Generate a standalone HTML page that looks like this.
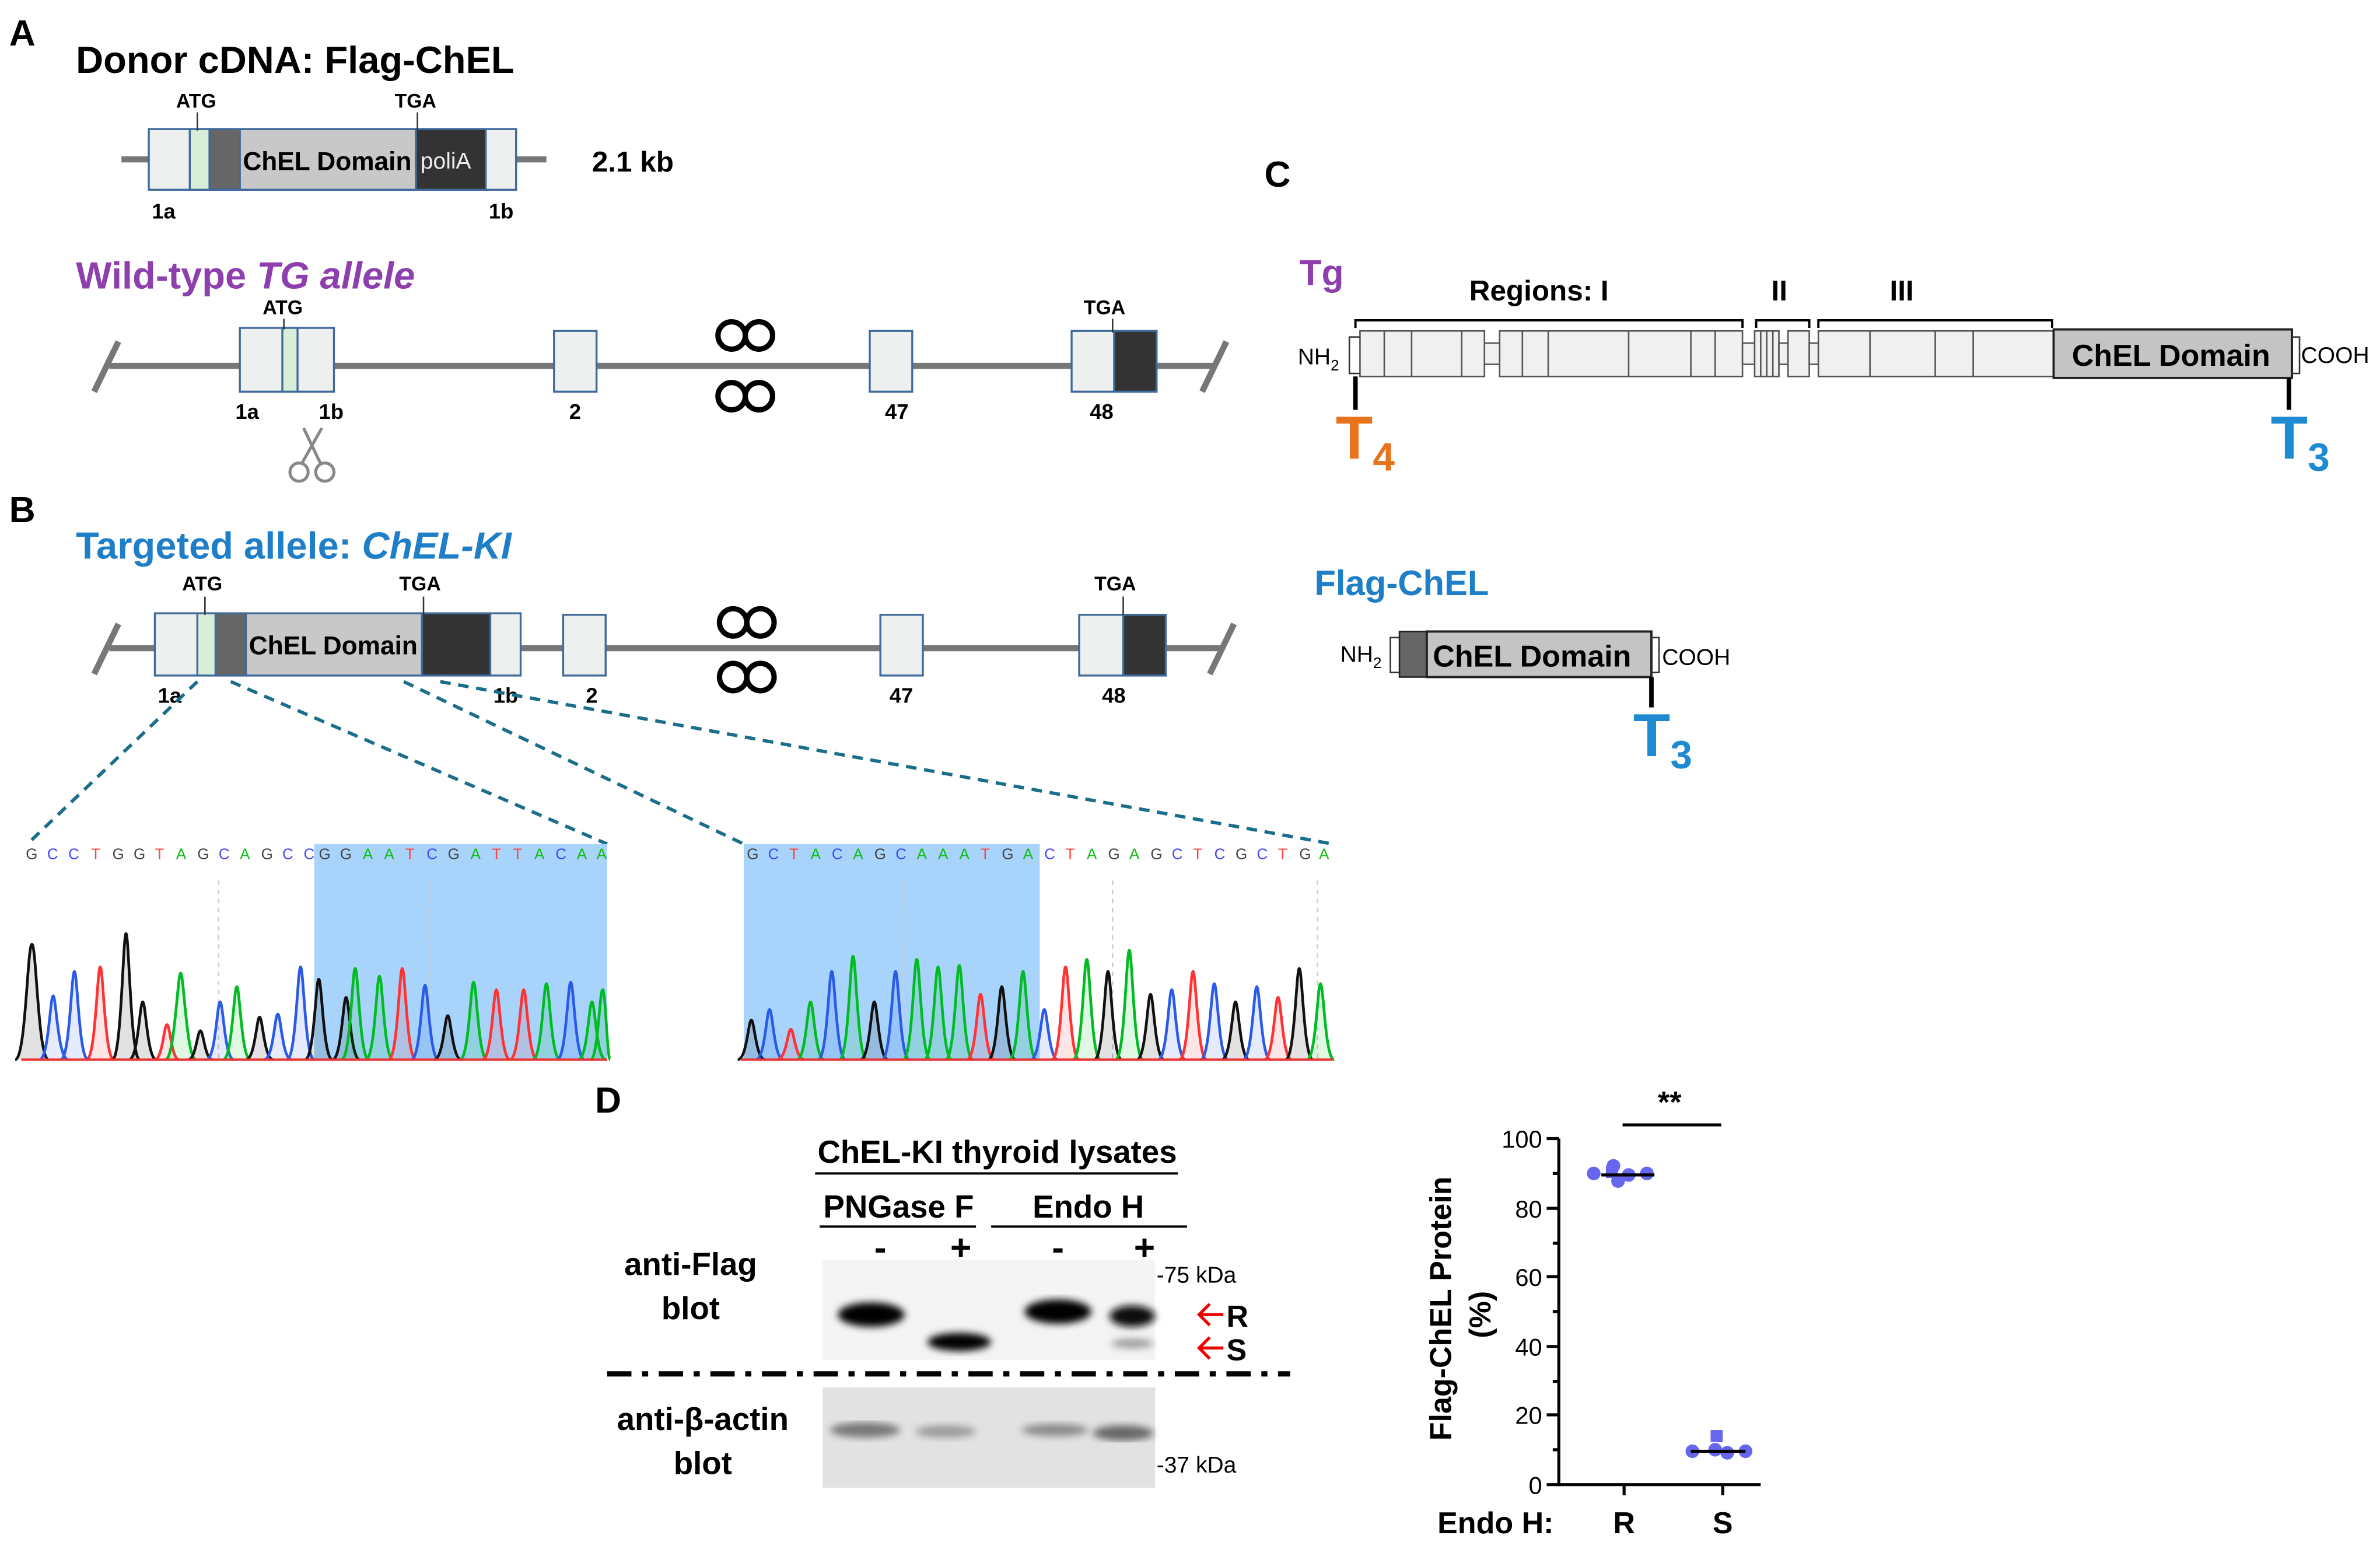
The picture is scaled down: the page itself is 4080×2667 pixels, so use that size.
<!DOCTYPE html>
<html><head><meta charset="utf-8"><style>
html,body{margin:0;padding:0;background:#fff}
svg{display:block}
text{font-family:"Liberation Sans",Arial,sans-serif}
</style></head><body>
<svg width="4080" height="2667" viewBox="0 0 1568 1025" xmlns="http://www.w3.org/2000/svg">
<rect width="1568" height="1025" fill="#fff"/>
<g font-weight="bold">
<text x="6" y="30" font-size="24">A</text>
<text x="50" y="48" font-size="25">Donor cDNA:  Flag-ChEL</text>
<line x1="80" y1="105" x2="360" y2="105" stroke="#777" stroke-width="4"/>
<g stroke="#3f6a9a" stroke-width="1.3">
<rect x="98" y="85" width="242" height="40" fill="#eef0f0"/>
<rect x="125" y="85" width="13" height="40" fill="#d8eed8"/>
<rect x="138" y="85" width="20" height="40" fill="#666"/>
<rect x="158" y="85" width="116" height="40" fill="#c8c8c8"/>
<rect x="274" y="85" width="46" height="40" fill="#333"/>
</g>
<text x="160" y="112" font-size="17">ChEL Domain</text>
<text x="277" y="111" font-size="15" fill="#eee" font-weight="normal">poliA</text>
<line x1="130" y1="74" x2="130" y2="86" stroke="#333"/>
<line x1="275" y1="74" x2="275" y2="86" stroke="#333"/>
<text x="116" y="71" font-size="13">ATG</text>
<text x="260" y="71" font-size="13">TGA</text>
<text x="100" y="144" font-size="14">1a</text>
<text x="322" y="144" font-size="14">1b</text>
<text x="390" y="113" font-size="19">2.1 kb</text>

<text x="50" y="190" font-size="25" fill="#8e3fae">Wild-type <tspan font-style="italic">TG allele</tspan></text>
<line x1="72" y1="241" x2="800" y2="241" stroke="#777" stroke-width="4"/>
<line x1="62" y1="258" x2="78" y2="225" stroke="#777" stroke-width="4"/>
<line x1="792" y1="258" x2="808" y2="225" stroke="#777" stroke-width="4"/>
<g stroke="#3f6a9a" stroke-width="1.3">
<rect x="158" y="216" width="62" height="42" fill="#eef0f0"/>
<rect x="186" y="216" width="10" height="42" fill="#d8eed8"/>
<rect x="365" y="218" width="28" height="40" fill="#eef0f0"/>
<rect x="573" y="218" width="28" height="40" fill="#eef0f0"/>
<rect x="706" y="218" width="56" height="40" fill="#eef0f0"/>
<rect x="734" y="218" width="28" height="40" fill="#333"/>
</g>
<line x1="187" y1="210" x2="187" y2="217" stroke="#333"/>
<line x1="733" y1="210" x2="733" y2="219" stroke="#333"/>
<text x="173" y="207" font-size="13">ATG</text>
<text x="714" y="207" font-size="13">TGA</text>
<text x="155" y="276" font-size="14">1a</text>
<text x="210" y="276" font-size="14">1b</text>
<text x="375" y="276" font-size="14">2</text>
<text x="583" y="276" font-size="14">47</text>
<text x="718" y="276" font-size="14">48</text>
<g fill="none" stroke="#000" stroke-width="3.5">
<circle cx="482" cy="221" r="9"/><circle cx="500" cy="221" r="9"/>
<circle cx="482" cy="261" r="9"/><circle cx="500" cy="261" r="9"/>
</g>
<g stroke="#888" stroke-width="2" fill="none">
<line x1="200" y1="282" x2="211" y2="305"/><line x1="212" y1="282" x2="199" y2="305"/>
<circle cx="197" cy="311" r="6"/><circle cx="214" cy="311" r="6"/>
</g>

<text x="6" y="344" font-size="24">B</text>
<text x="50" y="368" font-size="25" fill="#1e7ec8">Targeted allele: <tspan font-style="italic">ChEL-KI</tspan></text>
<line x1="72" y1="427" x2="805" y2="427" stroke="#777" stroke-width="4"/>
<line x1="62" y1="444" x2="78" y2="411" stroke="#777" stroke-width="4"/>
<line x1="797" y1="444" x2="813" y2="411" stroke="#777" stroke-width="4"/>
<g stroke="#3f6a9a" stroke-width="1.3">
<rect x="102" y="404" width="241" height="41" fill="#eef0f0"/>
<rect x="130" y="404" width="12" height="41" fill="#d8eed8"/>
<rect x="142" y="404" width="20" height="41" fill="#666"/>
<rect x="162" y="404" width="116" height="41" fill="#c8c8c8"/>
<rect x="278" y="404" width="45" height="41" fill="#333"/>
<rect x="371" y="405" width="28" height="40" fill="#eef0f0"/>
<rect x="580" y="405" width="28" height="40" fill="#eef0f0"/>
<rect x="711" y="405" width="57" height="40" fill="#eef0f0"/>
<rect x="740" y="405" width="28" height="40" fill="#333"/>
</g>
<text x="164" y="431" font-size="17">ChEL Domain</text>
<line x1="135" y1="393" x2="135" y2="405" stroke="#333"/>
<line x1="279" y1="393" x2="279" y2="405" stroke="#333"/>
<line x1="740" y1="393" x2="740" y2="405" stroke="#333"/>
<text x="120" y="389" font-size="13">ATG</text>
<text x="263" y="389" font-size="13">TGA</text>
<text x="721" y="389" font-size="13">TGA</text>
<text x="104" y="463" font-size="14">1a</text>
<text x="325" y="463" font-size="14">1b</text>
<text x="386" y="463" font-size="14">2</text>
<text x="586" y="463" font-size="14">47</text>
<text x="726" y="463" font-size="14">48</text>
<g fill="none" stroke="#000" stroke-width="3.5">
<circle cx="483" cy="410" r="9"/><circle cx="501" cy="410" r="9"/>
<circle cx="483" cy="446" r="9"/><circle cx="501" cy="446" r="9"/>
</g>
<g stroke="#1a6e8a" stroke-width="2.2" stroke-dasharray="7,5" fill="none">
<line x1="130" y1="449" x2="18" y2="556"/>
<line x1="152" y1="449" x2="400" y2="556"/>
<line x1="266" y1="449" x2="490" y2="556"/>
<line x1="290" y1="449" x2="878" y2="556"/>
</g>
</g>

<rect x="207" y="556" width="193" height="142" fill="#a8d4fc"/>
<rect x="490" y="556" width="195" height="142" fill="#a8d4fc"/>
<line x1="144" y1="580" x2="144" y2="698" stroke="#ccc" stroke-dasharray="3,3"/>
<line x1="284" y1="580" x2="284" y2="698" stroke="#ccc" stroke-dasharray="3,3"/>
<line x1="595" y1="580" x2="595" y2="698" stroke="#ccc" stroke-dasharray="3,3"/>
<line x1="733" y1="580" x2="733" y2="698" stroke="#ccc" stroke-dasharray="3,3"/>
<line x1="868" y1="580" x2="868" y2="698" stroke="#ccc" stroke-dasharray="3,3"/>
<g font-size="10">
<text y="566" x="17" fill="#444">G</text><text y="566" x="31" fill="#44f">C</text><text y="566" x="45" fill="#44f">C</text><text y="566" x="60" fill="#f44">T</text><text y="566" x="74" fill="#444">G</text><text y="566" x="88" fill="#444">G</text><text y="566" x="102" fill="#f44">T</text><text y="566" x="116" fill="#1b1">A</text><text y="566" x="130" fill="#444">G</text><text y="566" x="144" fill="#44f">C</text><text y="566" x="158" fill="#1b1">A</text><text y="566" x="172" fill="#444">G</text><text y="566" x="186" fill="#44f">C</text><text y="566" x="200" fill="#44f">C</text><text y="566" x="210" fill="#444">G</text><text y="566" x="224" fill="#444">G</text><text y="566" x="239" fill="#1b1">A</text><text y="566" x="253" fill="#1b1">A</text><text y="566" x="267" fill="#f44">T</text><text y="566" x="281" fill="#44f">C</text><text y="566" x="295" fill="#444">G</text><text y="566" x="310" fill="#1b1">A</text><text y="566" x="324" fill="#f44">T</text><text y="566" x="338" fill="#f44">T</text><text y="566" x="352" fill="#1b1">A</text><text y="566" x="366" fill="#44f">C</text><text y="566" x="380" fill="#1b1">A</text><text y="566" x="393" fill="#1b1">A</text>
<text y="566" x="492" fill="#444">G</text><text y="566" x="506" fill="#44f">C</text><text y="566" x="520" fill="#f44">T</text><text y="566" x="534" fill="#1b1">A</text><text y="566" x="548" fill="#44f">C</text><text y="566" x="562" fill="#1b1">A</text><text y="566" x="576" fill="#444">G</text><text y="566" x="590" fill="#44f">C</text><text y="566" x="604" fill="#1b1">A</text><text y="566" x="618" fill="#1b1">A</text><text y="566" x="632" fill="#1b1">A</text><text y="566" x="646" fill="#f44">T</text><text y="566" x="660" fill="#444">G</text><text y="566" x="674" fill="#1b1">A</text><text y="566" x="688" fill="#44f">C</text><text y="566" x="702" fill="#f44">T</text><text y="566" x="716" fill="#1b1">A</text><text y="566" x="730" fill="#444">G</text><text y="566" x="744" fill="#1b1">A</text><text y="566" x="758" fill="#444">G</text><text y="566" x="772" fill="#44f">C</text><text y="566" x="786" fill="#f44">T</text><text y="566" x="800" fill="#44f">C</text><text y="566" x="814" fill="#444">G</text><text y="566" x="828" fill="#44f">C</text><text y="566" x="842" fill="#f44">T</text><text y="566" x="856" fill="#444">G</text><text y="566" x="869" fill="#1b1">A</text>
</g>
<g fill-opacity="0.12" stroke-width="1.8">
<path d="M10 698 C17 698 18 622 21 622 C24 622 25 698 32 698" stroke="#111" fill="#111"/>
<path d="M26 698 C32 698 33 656 35 656 C37 656 38 698 45 698" stroke="#2a5ae8" fill="#2a5ae8"/>
<path d="M40 698 C46 698 47 640 49 640 C51 640 52 698 58 698" stroke="#2a5ae8" fill="#2a5ae8"/>
<path d="M57 698 C63 698 64 637 66 637 C68 637 69 698 75 698" stroke="#f33" fill="#f33"/>
<path d="M74 698 C80 698 81 615 83 615 C85 615 86 698 92 698" stroke="#111" fill="#111"/>
<path d="M85 698 C91 698 92 660 94 660 C96 660 97 698 103 698" stroke="#111" fill="#111"/>
<path d="M102 698 C107 698 108 675 110 675 C112 675 113 698 118 698" stroke="#f33" fill="#f33"/>
<path d="M109 698 C115 698 117 641 119 641 C121 641 123 698 129 698" stroke="#0b2" fill="#0b2"/>
<path d="M124 698 C129 698 130 679 132 679 C134 679 135 698 140 698" stroke="#111" fill="#111"/>
<path d="M136 698 C142 698 143 660 145 660 C147 660 148 698 154 698" stroke="#2a5ae8" fill="#2a5ae8"/>
<path d="M147 698 C153 698 154 650 156 650 C158 650 159 698 165 698" stroke="#0b2" fill="#0b2"/>
<path d="M162 698 C168 698 169 670 171 670 C173 670 174 698 180 698" stroke="#111" fill="#111"/>
<path d="M174 698 C180 698 181 668 183 668 C185 668 186 698 192 698" stroke="#2a5ae8" fill="#2a5ae8"/>
<path d="M189 698 C195 698 196 637 198 637 C200 637 201 698 207 698" stroke="#2a5ae8" fill="#2a5ae8"/>
<path d="M201 698 C207 698 208 645 210 645 C212 645 213 698 219 698" stroke="#111" fill="#111"/>
<path d="M219 698 C225 698 226 657 228 657 C230 657 231 698 237 698" stroke="#111" fill="#111"/>
<path d="M225 698 C231 698 232 638 234 638 C236 638 237 698 243 698" stroke="#0b2" fill="#0b2"/>
<path d="M241 698 C247 698 248 643 250 643 C252 643 253 698 259 698" stroke="#0b2" fill="#0b2"/>
<path d="M256 698 C262 698 263 638 265 638 C267 638 268 698 274 698" stroke="#f33" fill="#f33"/>
<path d="M271 698 C277 698 278 649 280 649 C282 649 283 698 289 698" stroke="#2a5ae8" fill="#2a5ae8"/>
<path d="M286 698 C292 698 293 669 295 669 C297 669 298 698 304 698" stroke="#111" fill="#111"/>
<path d="M303 698 C309 698 310 647 312 647 C314 647 315 698 321 698" stroke="#0b2" fill="#0b2"/>
<path d="M318 698 C324 698 325 652 327 652 C329 652 330 698 336 698" stroke="#f33" fill="#f33"/>
<path d="M336 698 C342 698 343 652 345 652 C347 652 348 698 354 698" stroke="#f33" fill="#f33"/>
<path d="M351 698 C357 698 358 648 360 648 C362 648 363 698 369 698" stroke="#0b2" fill="#0b2"/>
<path d="M367 698 C373 698 374 647 376 647 C378 647 379 698 385 698" stroke="#2a5ae8" fill="#2a5ae8"/>
<path d="M381 698 C387 698 388 660 390 660 C392 660 393 698 399 698" stroke="#0b2" fill="#0b2"/>
<path d="M389 698 C394 698 395 652 397 652 C399 652 400 698 402 698" stroke="#0b2" fill="#0b2"/>
<path d="M486 698 C492 698 493 672 495 672 C497 672 498 698 504 698" stroke="#111" fill="#111"/>
<path d="M498 698 C504 698 505 665 507 665 C509 665 510 698 516 698" stroke="#2a5ae8" fill="#2a5ae8"/>
<path d="M512 698 C518 698 519 678 521 678 C523 678 524 698 530 698" stroke="#f33" fill="#f33"/>
<path d="M525 698 C531 698 532 660 534 660 C536 660 537 698 543 698" stroke="#0b2" fill="#0b2"/>
<path d="M539 698 C545 698 546 640 548 640 C550 640 551 698 557 698" stroke="#2a5ae8" fill="#2a5ae8"/>
<path d="M553 698 C559 698 560 630 562 630 C564 630 565 698 571 698" stroke="#0b2" fill="#0b2"/>
<path d="M567 698 C573 698 574 660 576 660 C578 660 579 698 585 698" stroke="#111" fill="#111"/>
<path d="M581 698 C587 698 588 640 590 640 C592 640 593 698 599 698" stroke="#2a5ae8" fill="#2a5ae8"/>
<path d="M595 698 C601 698 602 632 604 632 C606 632 607 698 613 698" stroke="#0b2" fill="#0b2"/>
<path d="M609 698 C615 698 616 637 618 637 C620 637 621 698 627 698" stroke="#0b2" fill="#0b2"/>
<path d="M623 698 C629 698 630 636 632 636 C634 636 635 698 641 698" stroke="#0b2" fill="#0b2"/>
<path d="M637 698 C643 698 644 655 646 655 C648 655 649 698 655 698" stroke="#f33" fill="#f33"/>
<path d="M651 698 C657 698 658 650 660 650 C662 650 663 698 669 698" stroke="#111" fill="#111"/>
<path d="M665 698 C671 698 672 640 674 640 C676 640 677 698 683 698" stroke="#0b2" fill="#0b2"/>
<path d="M679 698 C685 698 686 665 688 665 C690 665 691 698 697 698" stroke="#2a5ae8" fill="#2a5ae8"/>
<path d="M693 698 C699 698 700 637 702 637 C704 637 705 698 711 698" stroke="#f33" fill="#f33"/>
<path d="M707 698 C713 698 714 632 716 632 C718 632 719 698 725 698" stroke="#0b2" fill="#0b2"/>
<path d="M721 698 C727 698 728 640 730 640 C732 640 733 698 739 698" stroke="#111" fill="#111"/>
<path d="M735 698 C741 698 742 626 744 626 C746 626 747 698 753 698" stroke="#0b2" fill="#0b2"/>
<path d="M749 698 C755 698 756 655 758 655 C760 655 761 698 767 698" stroke="#111" fill="#111"/>
<path d="M763 698 C769 698 770 652 772 652 C774 652 775 698 781 698" stroke="#2a5ae8" fill="#2a5ae8"/>
<path d="M777 698 C783 698 784 640 786 640 C788 640 789 698 795 698" stroke="#f33" fill="#f33"/>
<path d="M791 698 C797 698 798 648 800 648 C802 648 803 698 809 698" stroke="#2a5ae8" fill="#2a5ae8"/>
<path d="M805 698 C811 698 812 660 814 660 C816 660 817 698 823 698" stroke="#111" fill="#111"/>
<path d="M819 698 C825 698 826 650 828 650 C830 650 831 698 837 698" stroke="#2a5ae8" fill="#2a5ae8"/>
<path d="M833 698 C839 698 840 657 842 657 C844 657 845 698 851 698" stroke="#f33" fill="#f33"/>
<path d="M847 698 C853 698 854 638 856 638 C858 638 859 698 865 698" stroke="#111" fill="#111"/>
<path d="M861 698 C867 698 868 648 870 648 C872 648 873 698 879 698" stroke="#0b2" fill="#0b2"/>
</g>
<line x1="14" y1="698" x2="400" y2="698" stroke="#e33" stroke-width="1.5"/>
<line x1="488" y1="698" x2="878" y2="698" stroke="#e33" stroke-width="1.5"/>

<g font-weight="bold">
<text x="833" y="123" font-size="24">C</text>
<text x="856" y="188" font-size="24" fill="#8e3fae">Tg</text>
<text x="968" y="198" font-size="19">Regions: I</text>
<text x="1167" y="198" font-size="19">II</text>
<text x="1245" y="198" font-size="19">III</text>
</g>
<g stroke="#000" stroke-width="1.5" fill="none">
<path d="M893 216 V211 H1148 V216"/>
<path d="M1157 216 V211 H1192 V216"/>
<path d="M1198 216 V211 H1352 V216"/>
</g>
<g stroke="#555" stroke-width="1" fill="#f0f0f0">
<rect x="896" y="218" width="82" height="30"/>
<rect x="978" y="226" width="10" height="14"/>
<rect x="988" y="218" width="160" height="30"/>
<rect x="1148" y="226" width="8" height="14"/>
<rect x="1156" y="218" width="16" height="30"/>
<rect x="1172" y="226" width="6" height="14"/>
<rect x="1178" y="218" width="14" height="30"/>
<rect x="1192" y="226" width="6" height="14"/>
<rect x="1198" y="218" width="155" height="30"/>
<line x1="912" y1="218" x2="912" y2="248"/><line x1="930" y1="218" x2="930" y2="248"/><line x1="963" y1="218" x2="963" y2="248"/>
<line x1="1003" y1="218" x2="1003" y2="248"/><line x1="1020" y1="218" x2="1020" y2="248"/><line x1="1073" y1="218" x2="1073" y2="248"/><line x1="1114" y1="218" x2="1114" y2="248"/><line x1="1130" y1="218" x2="1130" y2="248"/>
<line x1="1160" y1="218" x2="1160" y2="248"/><line x1="1164" y1="218" x2="1164" y2="248"/><line x1="1168" y1="218" x2="1168" y2="248"/>
<line x1="1232" y1="218" x2="1232" y2="248"/><line x1="1275" y1="218" x2="1275" y2="248"/><line x1="1300" y1="218" x2="1300" y2="248"/>
</g>
<rect x="1353" y="217" width="157" height="32" fill="#c4c4c4" stroke="#222" stroke-width="1.5"/>
<path d="M896 222 H889 V246 H896" fill="none" stroke="#333"/>
<path d="M1510 222 H1515 V246 H1510" fill="none" stroke="#333"/>
<text x="1365" y="241" font-size="20" font-weight="bold">ChEL Domain</text>
<text x="855" y="240" font-size="15">NH<tspan font-size="10" dy="4">2</tspan></text>
<text x="1516" y="239" font-size="15">COOH</text>
<line x1="893" y1="248" x2="893" y2="270" stroke="#000" stroke-width="3"/>
<line x1="1508" y1="249" x2="1508" y2="270" stroke="#000" stroke-width="3"/>
<text x="880" y="302" font-size="40" font-weight="bold" fill="#e8731d">T<tspan font-size="26" dy="8">4</tspan></text>
<text x="1496" y="302" font-size="40" font-weight="bold" fill="#1e8ad2">T<tspan font-size="26" dy="8">3</tspan></text>

<text x="866" y="392" font-size="23" font-weight="bold" fill="#1e7ec8">Flag-ChEL</text>
<path d="M922 420 H916 V443 H922" fill="none" stroke="#333"/>
<rect x="922" y="416" width="18" height="30" fill="#666" stroke="#222"/>
<rect x="940" y="416" width="148" height="30" fill="#c4c4c4" stroke="#222" stroke-width="1.5"/>
<path d="M1088 420 H1093 V443 H1088" fill="none" stroke="#333"/>
<text x="944" y="439" font-size="20" font-weight="bold">ChEL Domain</text>
<text x="883" y="436" font-size="15">NH<tspan font-size="10" dy="4">2</tspan></text>
<text x="1095" y="438" font-size="15">COOH</text>
<line x1="1088" y1="446" x2="1088" y2="466" stroke="#000" stroke-width="3"/>
<text x="1076" y="498" font-size="40" font-weight="bold" fill="#1e8ad2">T<tspan font-size="26" dy="8">3</tspan></text>

<g font-weight="bold">
<text x="392" y="733" font-size="24">D</text>
<text x="657" y="766" font-size="21" text-anchor="middle">ChEL-KI thyroid lysates</text>
<text x="592" y="802" font-size="21" text-anchor="middle">PNGase F</text>
<text x="717" y="802" font-size="21" text-anchor="middle">Endo H</text>
<text x="580" y="830" font-size="24" text-anchor="middle">-</text>
<text x="633" y="830" font-size="24" text-anchor="middle">+</text>
<text x="697" y="830" font-size="24" text-anchor="middle">-</text>
<text x="754" y="830" font-size="24" text-anchor="middle">+</text>
<text x="455" y="840" font-size="21" text-anchor="middle">anti-Flag</text>
<text x="455" y="869" font-size="21" text-anchor="middle">blot</text>
<text x="463" y="942" font-size="21" text-anchor="middle">anti-β-actin</text>
<text x="463" y="971" font-size="21" text-anchor="middle">blot</text>
<text x="808" y="874" font-size="20">R</text>
<text x="808" y="896" font-size="20">S</text>
</g>
<line x1="537" y1="773" x2="776" y2="773" stroke="#000" stroke-width="1.5"/>
<line x1="540" y1="808" x2="643" y2="808" stroke="#000" stroke-width="1.5"/>
<line x1="653" y1="808" x2="782" y2="808" stroke="#000" stroke-width="1.5"/>
<defs><filter id="bl"><feGaussianBlur stdDeviation="2.5"/></filter></defs>
<rect x="542" y="830" width="219" height="66" fill="#f4f4f4"/>
<g filter="url(#bl)" fill="#000">
<ellipse cx="574" cy="866" rx="22" ry="8"/>
<ellipse cx="632" cy="884" rx="21" ry="6"/>
<ellipse cx="697" cy="864" rx="22" ry="8"/>
<ellipse cx="746" cy="867" rx="15" ry="7" fill="#111"/>
<ellipse cx="746" cy="885" rx="14" ry="3" fill="#999"/>
</g>
<rect x="542" y="914" width="219" height="66" fill="#e2e2e2"/>
<g filter="url(#bl)">
<ellipse cx="570" cy="942" rx="23" ry="5" fill="#777"/>
<ellipse cx="623" cy="943" rx="20" ry="4" fill="#999"/>
<ellipse cx="695" cy="942" rx="22" ry="4" fill="#888"/>
<ellipse cx="740" cy="944" rx="20" ry="5" fill="#666"/>
</g>
<text x="762" y="845" font-size="15">-75 kDa</text>
<text x="762" y="970" font-size="15">-37 kDa</text>
<g stroke="#e00" stroke-width="2" fill="none">
<path d="M806 866 H790 M797 859 L790 866 L797 873"/>
<path d="M806 888 H790 M797 881 L790 888 L797 895"/>
</g>
<line x1="400" y1="905" x2="850" y2="905" stroke="#000" stroke-width="3.5" stroke-dasharray="16,7,4,7"/>

<g stroke="#000" stroke-width="2" fill="none">
<line x1="1027" y1="750" x2="1027" y2="979"/>
<line x1="1026" y1="978" x2="1160" y2="978"/>
<line x1="1019" y1="750" x2="1027" y2="750"/><line x1="1019" y1="796" x2="1027" y2="796"/><line x1="1019" y1="841" x2="1027" y2="841"/><line x1="1019" y1="887" x2="1027" y2="887"/><line x1="1019" y1="932" x2="1027" y2="932"/><line x1="1019" y1="978" x2="1027" y2="978"/>
<line x1="1023" y1="773" x2="1027" y2="773"/><line x1="1023" y1="819" x2="1027" y2="819"/><line x1="1023" y1="864" x2="1027" y2="864"/><line x1="1023" y1="910" x2="1027" y2="910"/><line x1="1023" y1="955" x2="1027" y2="955"/>
<line x1="1070" y1="978" x2="1070" y2="985"/><line x1="1135" y1="978" x2="1135" y2="985"/>
<line x1="1069" y1="741" x2="1134" y2="741"/>
</g>
<g font-size="16" text-anchor="end">
<text x="1016" y="756">100</text><text x="1016" y="802">80</text><text x="1016" y="847">60</text><text x="1016" y="893">40</text><text x="1016" y="938">20</text><text x="1016" y="984">0</text>
</g>
<g font-weight="bold" font-size="20">
<text x="1100" y="733" text-anchor="middle">**</text>
<text x="947" y="1010">Endo H:</text>
<text x="1070" y="1010" text-anchor="middle">R</text>
<text x="1135" y="1010" text-anchor="middle">S</text>
<text transform="translate(956,862) rotate(-90)" text-anchor="middle">Flag-ChEL Protein</text>
<text transform="translate(982,866) rotate(-90)" text-anchor="middle">(%)</text>
</g>
<g fill="#6666ee">
<circle cx="1050" cy="773" r="4.5"/><rect x="1058" y="768" width="8" height="8"/><circle cx="1066" cy="778" r="4.5"/><circle cx="1073" cy="774" r="4.5"/><circle cx="1085" cy="773" r="4.5"/><circle cx="1063" cy="768" r="4.5"/>
<circle cx="1115" cy="956" r="4.5"/><rect x="1127" y="942" width="8" height="8"/><circle cx="1130" cy="955" r="4.5"/><circle cx="1138" cy="957" r="4.5"/><circle cx="1150" cy="956" r="4.5"/>
</g>
<line x1="1055" y1="774" x2="1090" y2="774" stroke="#000" stroke-width="2"/>
<line x1="1114" y1="956" x2="1150" y2="956" stroke="#000" stroke-width="2"/>
</svg>
</body></html>
